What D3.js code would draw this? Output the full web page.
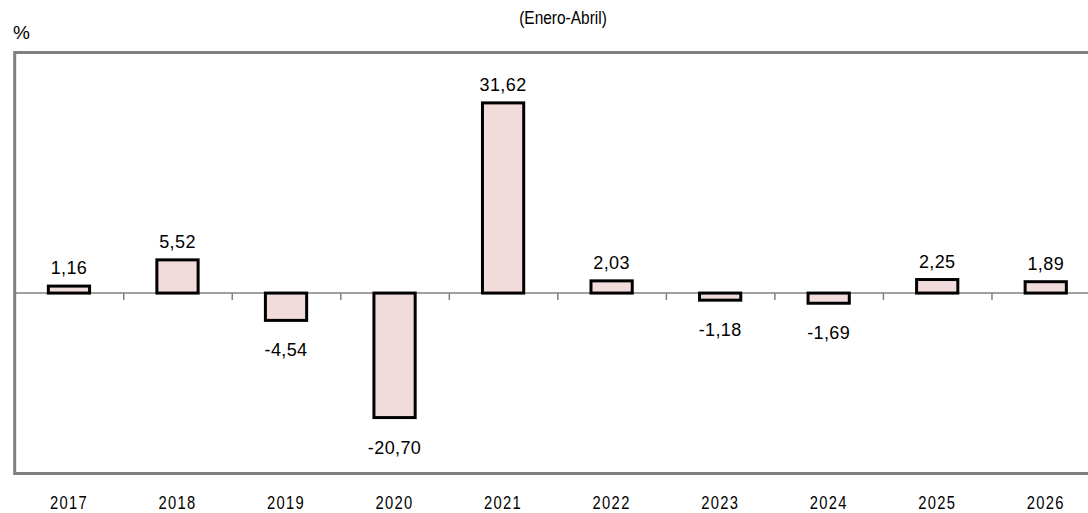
<!DOCTYPE html>
<html>
<head>
<meta charset="utf-8">
<script src="https://cdn.jsdelivr.net/npm/d3@7"></script>
<style>
html,body{margin:0;padding:0;background:#fff;overflow:hidden;}
svg{display:block;}
</style>
</head>
<body>
<svg id="chart" width="1088" height="513"></svg>
<script>
const years = ["2017","2018","2019","2020","2021","2022","2023","2024","2025","2026"];
const values = [1.16, 5.52, -4.54, -20.70, 31.62, 2.03, -1.18, -1.69, 2.25, 1.89];
const valueLabels = ["1,16","5,52","-4,54","-20,70","31,62","2,03","-1,18","-1,69","2,25","1,89"];
const yDomain = [-30, 40];
const titleText = "(Enero-Abril)";
const unitText = "%";

(function () {
const svg = d3.select("#chart");
const pL = 14.7, pR = 1100, pT = 52.5, pB = 473.5;

const x = d3.scaleBand().domain(years).range([pL, pR]).paddingInner(0.62).paddingOuter(0.31);
const xCat = d3.scaleBand().domain(years).range([pL, pR]).padding(0);
const y = d3.scaleLinear().domain(yDomain).range([pB, pT]);

// frame
svg.append("rect")
  .attr("x", pL).attr("y", pT)
  .attr("width", pR - pL).attr("height", pB - pT)
  .attr("fill", "none").attr("stroke", "#808080").attr("stroke-width", 3);

// zero axis with ticks
const zero = y(0);
const axis = d3.axisBottom(d3.scaleLinear().domain([0, years.length]).range([pL, pR]))
  .tickValues(d3.range(0, years.length + 1))
  .tickSize(7).tickFormat("");
const ag = svg.append("g").attr("transform", `translate(0,${zero})`).call(axis);
ag.select(".domain").attr("stroke", "#808080").attr("stroke-width", 1.5).attr("d", `M${pL},0H${pR}`);
ag.selectAll(".tick line").attr("stroke", "#808080").attr("stroke-width", 1.5);

// bars
svg.selectAll("rect.bar").data(values).enter().append("rect")
  .attr("class", "bar")
  .attr("x", (d, i) => x(years[i]))
  .attr("width", x.bandwidth())
  .attr("y", d => y(Math.max(0, d)))
  .attr("height", d => Math.abs(y(d) - y(0)))
  .attr("fill", "#f2dcdb").attr("stroke", "#000").attr("stroke-width", 3);

// value labels
svg.selectAll("text.val").data(values).enter().append("text")
  .attr("class", "val")
  .attr("x", (d, i) => x(years[i]) + x.bandwidth() / 2)
  .attr("y", d => d >= 0 ? y(d) - 12 : y(d) + 36)
  .attr("text-anchor", "middle")
  .attr("font-family", "'Liberation Sans', Arial, sans-serif")
  .attr("font-size", 18).attr("letter-spacing", 0.4)
  .attr("fill", "#000")
  .text((d, i) => valueLabels[i]);

// year labels (condensed look)
svg.selectAll("text.yr").data(years).enter().append("text")
  .attr("class", "yr")
  .attr("transform", d => `translate(${xCat(d) + xCat.bandwidth() / 2},509) scale(0.82,1)`)
  .attr("text-anchor", "middle")
  .attr("font-family", "'Liberation Sans', Arial, sans-serif")
  .attr("font-size", 18).attr("letter-spacing", 1.6)
  .attr("fill", "#000")
  .text(d => d);

// title
svg.append("text").attr("transform", "translate(563,24) scale(0.86,1)").attr("text-anchor", "middle")
  .attr("font-family", "'Liberation Sans', Arial, sans-serif")
  .attr("font-size", 18).attr("fill", "#000").text(titleText);

svg.append("text").attr("x", 13).attr("y", 39)
  .attr("font-family", "'Liberation Sans', Arial, sans-serif")
  .attr("font-size", 19).attr("fill", "#000").text(unitText);
})();
</script>
</body>
</html>
